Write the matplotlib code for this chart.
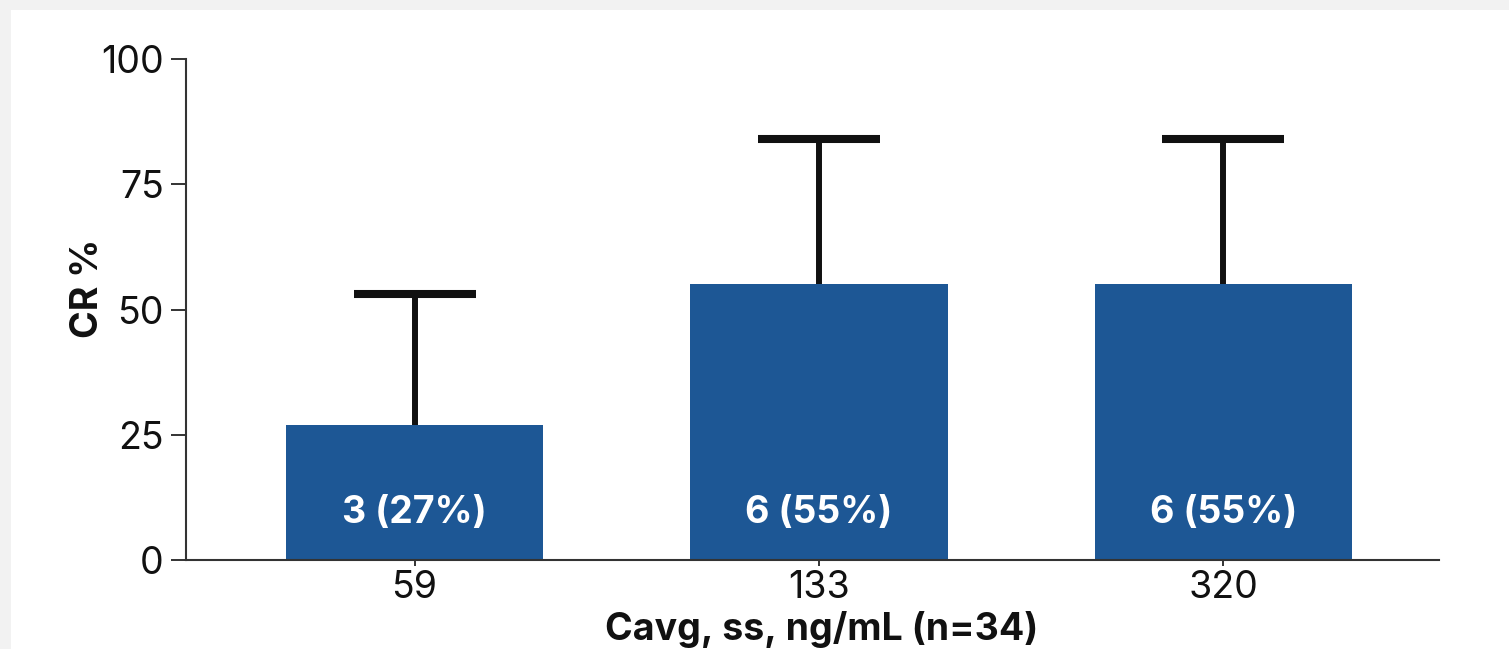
import matplotlib
matplotlib.use("Agg")
import matplotlib.pyplot as plt
from matplotlib.patches import Rectangle

categories = ["59", "133", "320"]
cr_percent = [27, 55, 55]
responders = [3, 6, 6]
ci_upper = [53, 84, 84]
yticks = [0, 25, 50, 75, 100]

plt.rcParams['font.family'] = ['Inter', 'DejaVu Sans']

W, H = 1509, 649
fig = plt.figure(figsize=(W / 100, H / 100), dpi=100)
fig.patch.set_facecolor('#f2f2f2')
panel = Rectangle((11 / W, 0), 1 - 11 / W, (H - 10) / H,
                  transform=fig.transFigure, facecolor='white',
                  edgecolor='none', zorder=-10)
fig.add_artist(panel)

ax = fig.add_axes([186 / W, (H - 560) / H, (1439 - 186) / W, (560 - 59) / H])
ax.set_zorder(1)
ax.set_facecolor('white')

x = list(range(len(categories)))
bar_color = '#1d5795'
ax.bar(x, cr_percent, width=0.636, color=bar_color, zorder=2)
upper_err = [u - v for u, v in zip(ci_upper, cr_percent)]
eb = ax.errorbar(x, cr_percent, yerr=[[0] * len(x), upper_err], fmt='none',
                 ecolor='#111111', elinewidth=4.3, capsize=44, capthick=5.8, zorder=3)
# show only the upper cap
for cap in eb.lines[1]:
    if list(cap.get_ydata()) == list(cr_percent):
        cap.set_visible(False)

FS = 27
for xi, n, p in zip(x, responders, cr_percent):
    ax.text(xi, 9.4, f"{n} ({p}%)", ha='center', va='center', color='white',
            fontsize=FS, fontweight='bold', zorder=4)

ax.set_xlim(-0.565, 2.533)
ax.set_ylim(0, 100)
ax.set_xticks(x)
ax.set_xticklabels(categories)
ax.set_yticks(yticks)
ax.set_yticklabels([str(t) for t in yticks])

for s in ['top', 'right']:
    ax.spines[s].set_visible(False)
for s in ['left', 'bottom']:
    ax.spines[s].set_color('#333333')
    ax.spines[s].set_linewidth(1.5)

ax.tick_params(axis='y', length=11, width=1.4, color='#333333', labelsize=FS,
               pad=5, labelcolor='#111111')
ax.tick_params(axis='x', length=4, width=1.4, color='#333333', labelsize=FS,
               pad=3, labelcolor='#111111')

ax.set_xlabel("Cavg, ss, ng/mL (n=34)", fontsize=FS, fontweight='bold', color='#111111')
ax.xaxis.set_label_coords(0.507, -0.138)
ax.xaxis.label.set_va('center')
ax.set_ylabel("CR %", fontsize=FS, fontweight='bold', color='#111111')
ax.yaxis.set_label_coords(-0.078, 0.543)
ax.yaxis.label.set_va('center')

fig.savefig("out.png", dpi=100, facecolor=fig.get_facecolor())
